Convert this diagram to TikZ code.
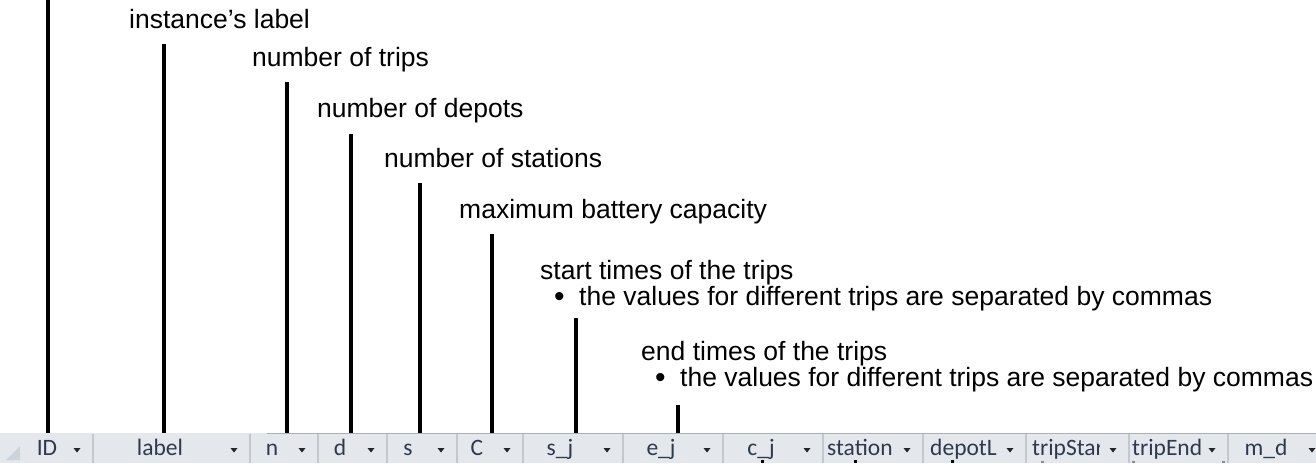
\documentclass[tikz,border=0pt]{standalone}
\usepackage{fontspec}
\setmainfont{Liberation Sans}
\newfontfamily\hdrfont{Carlito}
\definecolor{hdrbg}{RGB}{228,231,236}
\definecolor{hdrsep}{RGB}{196,200,206}
\definecolor{hdrtop}{RGB}{170,175,182}
\definecolor{hdrtext}{RGB}{44,58,80}
\definecolor{hdrtri}{RGB}{205,211,219}
\begin{document}
\begin{tikzpicture}[x=1pt,y=-1pt,
  lead/.style={line width=4pt, black},
  caption/.style={anchor=base west, inner sep=0pt, font=\fontsize{26.5}{30}\selectfont},
  bulletmark/.style={caption, font=\fontsize{30}{30}\selectfont},
  colhead/.style={anchor=base, inner sep=0pt, text=hdrtext, font=\hdrfont\fontsize{23.5}{26}\selectfont},
  colheadL/.style={colhead, anchor=base west},
  colsep/.style={draw=hdrsep, line width=1.2pt},
  drop/.style={fill=black!85}
]
\useasboundingbox (0,0) rectangle (1316,463);

% column header strip
\node[fill=hdrbg, minimum width=1316pt, minimum height=30pt, inner sep=0pt,
      anchor=north west] (hdr) at (0,433) {};
\draw[hdrtop, line width=1pt] (267,433.5) -- (1316,433.5);
\fill[hdrtri] (6,460) -- (20,446) -- (20,460) -- cycle;
\foreach \s in {93,250,318,387,457,523,623,723,823,923,1026,1129,1228}
  \draw[colsep] (\s,434) -- (\s,463);
\foreach \a in {77,234,302,371,441,507,607,707,807,907,1010,1113,1212,1312}
  \fill[drop] (\a-3.5,448) -- (\a+3.5,448) -- (\a,452.5) -- cycle;

% column names
\node[colhead] (hID) at (47,455) {ID};
\node[colhead] (hlabel) at (160,455) {label};
\node[colhead] (hn) at (272,455) {n};
\node[colhead] (hd) at (340,455) {d};
\node[colhead] (hs) at (408,455) {s};
\node[colhead] (hC) at (477,455) {C};
\node[colhead] (hsj) at (560,455) {s\_j};
\node[colhead] (hej) at (661,455) {e\_j};
\node[colhead] (hcj) at (761,455) {c\_j};
\node[colheadL] (hstation) at (827,455) {station};
\node[colheadL] (hdepot) at (930,455) {depotL};
\begin{scope}
  \clip (1029,433) rectangle (1099,463);
  \node[colheadL] (htripstart) at (1032,455) {tripStart};
\end{scope}
\node[colheadL] (htripend) at (1132,455) {tripEnd};
\node[colhead] (hmd) at (1266,455) {m\_d};

% tops of the columns below the strip
\foreach \m in {762,855,952}
  \fill[black] (\m-1.5,459.5) rectangle (\m+1.5,463);
\foreach \m in {1042,1133,1223}
  \fill[black!45] (\m-1.5,460.5) rectangle (\m+1.5,463);

% captions
\node[caption] (cID) at (129,28) {instance’s label};
\node[caption] (clabel) at (252,66) {number of trips};
\node[caption] (cn) at (317,117) {number of depots};
\node[caption] (cd) at (384,167) {number of stations};
\node[caption] (cs) at (459,218) {maximum battery capacity};
\node[caption] (cC) at (540,279) {start times of the trips};
\node[bulletmark] (bC) at (554,306) {•};
\node[caption] (cC2) at (579,305) {the values for different trips are separated by commas};
\node[caption] (csj) at (641,360) {end times of the trips};
\node[bulletmark] (bsj) at (655,387) {•};
\node[caption] (csj2) at (680,386) {the values for different trips are separated by commas};

% leader lines down to the header strip
\coordinate (tID) at (48,0);
\coordinate (tlabel) at (164,44);
\coordinate (tn) at (287,82);
\coordinate (td) at (351,134);
\coordinate (ts) at (420,183);
\coordinate (tC) at (492,234);
\coordinate (tsj) at (576,318);
\coordinate (tej) at (678,405);
\foreach \t in {tID,tlabel,tn,td,ts,tC,tsj,tej}
  \draw[lead] (\t) -- (\t |- hdr.north);
\end{tikzpicture}
\end{document}
